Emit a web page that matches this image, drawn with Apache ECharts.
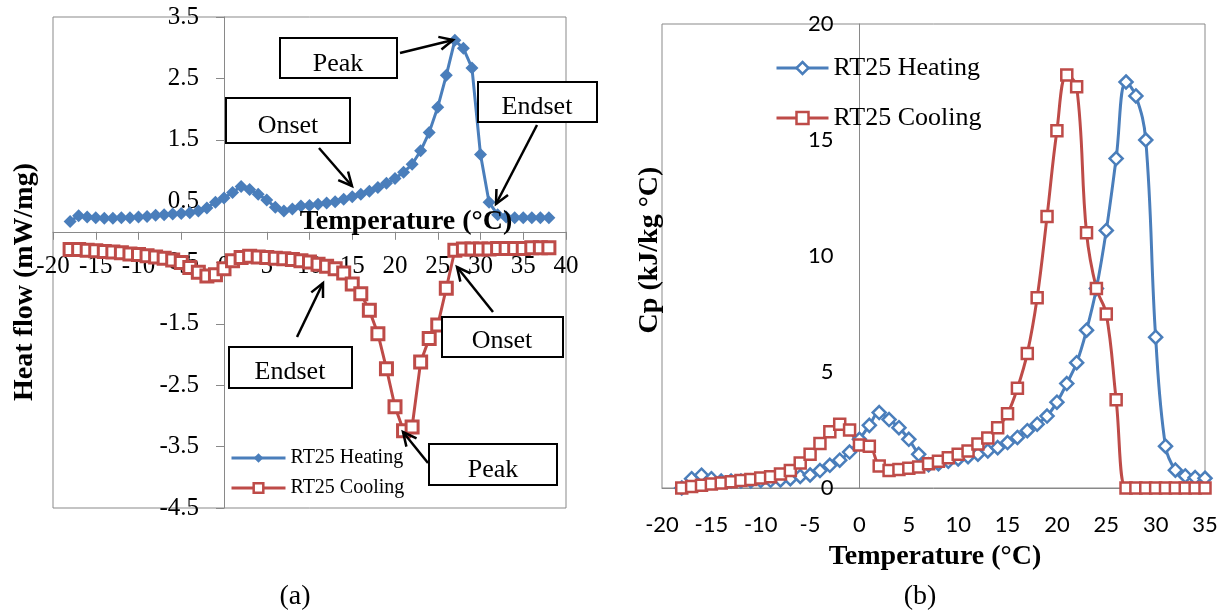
<!DOCTYPE html>
<html><head><meta charset="utf-8">
<script src="https://cdn.jsdelivr.net/npm/echarts@6/dist/echarts.min.js"></script>
<style>html,body{margin:0;padding:0;background:#fff}#c{width:1226px;height:614px}</style>
</head><body><div id="c"></div>
<script>
// ---- Panel (a): heat flow (mW/mg) vs temperature (°C)
const tempA = [-18,-17,-16,-15,-14,-13,-12,-11,-10,-9,-8,-7,-6,-5,-4,-3,-2,-1,0,1,2,3,4,5,6,7,8,9,10,11,12,13,14,15,16,17,18,19,20,21,22,23,24,25,26,27,28,29,30,31,32,33,34,35,36,37,38];
const heatFlowHeating = [0.17,0.26,0.24,0.23,0.22,0.22,0.23,0.23,0.24,0.25,
  0.27,0.28,0.29,0.30,0.31,0.34,0.39,0.48,
  0.55,0.64,0.74,0.69,0.61,0.52,0.40,0.34,0.37,0.42,
  0.43,0.45,0.47,0.49,0.53,0.57,0.61,0.66,0.72,0.79,
  0.87,0.97,1.10,1.32,1.62,2.03,2.55,3.12,2.99,2.67,
  1.26,0.48,0.28,0.24,0.23,0.23,0.23,0.23,0.23];
const heatFlowCooling = [-0.29,-0.29,-0.30,-0.31,-0.32,-0.33,-0.34,-0.36,-0.37,-0.39,
  -0.41,-0.43,-0.46,-0.50,-0.58,-0.66,-0.72,-0.70,
  -0.60,-0.47,-0.42,-0.40,-0.41,-0.42,-0.43,-0.44,-0.45,-0.47,
  -0.49,-0.53,-0.56,-0.60,-0.67,-0.85,-1.01,-1.28,-1.66,-2.23,
  -2.85,-3.24,-3.18,-2.12,-1.74,-1.52,-0.92,-0.30,-0.28,-0.28,
  -0.28,-0.28,-0.27,-0.27,-0.27,-0.27,-0.26,-0.26,-0.26];
const yTicksA = [-4.5,-3.5,-2.5,-1.5,-0.5,0.5,1.5,2.5,3.5];

// ---- Panel (b): Cp (kJ/kg °C) vs temperature (°C)
const tempB = [-18,-17,-16,-15,-14,-13,-12,-11,-10,-9,-8,-7,-6,-5,-4,-3,-2,-1,0,1,2,3,4,5,6,7,8,9,10,11,12,13,14,15,16,17,18,19,20,21,22,23,24,25,26,27,28,29,30,31,32,33,34,35];
const cpHeating = [0.0,0.4,0.55,0.4,0.3,0.3,0.3,0.3,0.32,0.33,
  0.35,0.4,0.5,0.56,0.75,0.98,1.2,1.55,
  2.1,2.7,3.25,2.95,2.6,2.1,1.45,1.0,1.05,1.15,
  1.25,1.35,1.46,1.6,1.74,1.96,2.18,2.47,2.75,3.1,
  3.7,4.5,5.4,6.8,8.6,11.1,14.2,17.5,16.9,15.0,
  6.5,1.8,0.77,0.52,0.45,0.42];
const cpCooling = [0.0,0.07,0.12,0.17,0.22,0.27,0.32,0.37,0.43,0.49,
  0.6,0.75,1.08,1.45,1.92,2.42,2.75,2.5,
  1.85,1.8,0.95,0.75,0.8,0.85,0.9,1.05,1.15,1.3,
  1.45,1.6,1.9,2.15,2.6,3.2,4.3,5.8,8.2,11.7,
  15.4,17.8,17.3,11.0,8.6,7.5,3.8,0,0,0,
  0,0,0,0,0,0];

const seriesNames = ['RT25 Heating','RT25 Cooling'];
const BLUE = '#4a7ebb', RED = '#be4b48', AXIS = '#898989';
const SERIF = '"Liberation Serif", "Times New Roman", serif';

// grid geometry (layout only)
const GA = {left:53, top:17, width:513, height:491};
const GB = {left:662, top:24, width:543, height:464};
const xMinA = -20, xMaxA = 40, yMinA = -4.5, yMaxA = 3.5;
const xMinB = -20, xMaxB = 35;
// shift the crossing axes of panel (a) to the zero lines, and the y axis of (b) to x = 0
const offAx = -GA.height * (0 - yMinA) / (yMaxA - yMinA);
const offAy = -GA.width * (0 - xMinA) / (xMaxA - xMinA);
const offBy = -GB.width * (0 - xMinB) / (xMaxB - xMinB);

function pairs(xs, ys){ return xs.map((x,i)=>[x, ys[i]]); }

function arrow(x1,y1,x2,y2){
  const ang = Math.atan2(y2-y1, x2-x1), L = 15, a = Math.PI/7;
  const p1 = [x2 - L*Math.cos(ang - a), y2 - L*Math.sin(ang - a)];
  const p2 = [x2 - L*Math.cos(ang + a), y2 - L*Math.sin(ang + a)];
  return [
    {type:'line', z:100, shape:{x1:x1,y1:y1,x2:x2,y2:y2}, style:{stroke:'#000', lineWidth:2.5}},
    {type:'polyline', z:100, shape:{points:[p1,[x2,y2],p2]}, style:{stroke:'#000', lineWidth:2.5, fill:null}}
  ];
}
function box(x,y,w,h,text,tx,ty){
  return [
    {type:'rect', z:100, shape:{x:x,y:y,width:w,height:h}, style:{fill:'#fff', stroke:'#000', lineWidth:2}},
    {type:'text', z:101, x:tx, y:ty, style:{text:text, font:'26px ' + SERIF, fill:'#000', align:'center', verticalAlign:'middle'}}
  ];
}
function label(text, x, y, size, bold, rot){
  return {type:'text', z:110, x:x, y:y, rotation: rot || 0,
    style:{text:text, font:(bold?'bold ':'') + size + 'px ' + SERIF, fill:'#000', align:'center', verticalAlign:'middle'}};
}

const graphics = [].concat(
  box(280,38,117,40,'Peak',338,64), arrow(400,53,453,40),
  box(226,98,124,45,'Onset',288,126), arrow(319,148,352,186),
  box(478,82,119,40,'Endset',537,107), arrow(537,125,496,204),
  box(229,347,123,41,'Endset',290,372), arrow(297,337,323,283),
  box(442,317,121,40,'Onset',502,341), arrow(493,312,457,267),
  box(429,444,128,41,'Peak',493,470), arrow(428,463,403,432),
  [label('Temperature (°C)', 406, 222, 28, true),
   label('Heat flow (mW/mg)', 25, 282, 28, true, Math.PI/2),
   label('(a)', 295, 597, 28, false),
   label('Temperature (°C)', 935, 557, 28, true),
   label('Cp (kJ/kg °C)', 650, 250, 28, true, Math.PI/2),
   label('(b)', 920, 597, 28, false)]
);

const chart = echarts.init(document.getElementById('c'), null, {renderer:'canvas', width:1226, height:614});
chart.setOption({
  animation:false,
  backgroundColor:'#fff',
  grid:[
    Object.assign({show:true, borderColor:AXIS, borderWidth:1, backgroundColor:'transparent', containLabel:false, outerBoundsMode:'none'}, GA),
    Object.assign({show:true, borderColor:AXIS, borderWidth:1, backgroundColor:'transparent', containLabel:false, outerBoundsMode:'none'}, GB)
  ],
  xAxis:[
    {type:'value', gridIndex:0, min:xMinA, max:xMaxA, interval:5, position:'bottom', offset:offAx,
     axisLine:{show:true, onZero:false, lineStyle:{color:AXIS, width:1}},
     axisTick:{show:true, length:8, lineStyle:{color:AXIS}},
     axisLabel:{margin:22, fontFamily:SERIF, fontSize:25, color:'#000', interval:0, hideOverlap:false},
     splitLine:{show:false}},
    {type:'value', gridIndex:1, min:xMinB, max:xMaxB, interval:5, position:'bottom',
     axisLine:{show:true, onZero:false, lineStyle:{color:AXIS, width:1}},
     axisTick:{show:false},
     axisLabel:{margin:26, fontFamily:'Lato', fontSize:22, color:'#000', hideOverlap:false},
     splitLine:{show:false}}
  ],
  yAxis:[
    {type:'value', gridIndex:0, min:yMinA, max:yMaxA, position:'left', offset:offAy,
     axisLine:{show:true, onZero:false, lineStyle:{color:AXIS, width:1}},
     axisTick:{show:true, length:8, lineStyle:{color:AXIS}, customValues:yTicksA},
     axisLabel:{margin:25, fontFamily:SERIF, fontSize:25, color:'#000', customValues:yTicksA, hideOverlap:false},
     splitLine:{show:false}},
    {type:'value', gridIndex:1, min:0, max:20, interval:5, position:'left', offset:offBy,
     axisLine:{show:true, onZero:false, lineStyle:{color:AXIS, width:1}},
     axisTick:{show:false},
     axisLabel:{margin:26, fontFamily:'Lato', fontSize:22, color:'#000', hideOverlap:false},
     splitLine:{show:false}}
  ],
  legend:[
    {left:230, top:448, padding:0, orient:'vertical', itemWidth:54, itemHeight:12, itemGap:10, selectedMode:false,
     textStyle:{fontFamily:SERIF, fontSize:20, color:'#000'},
     data:[
       {name:seriesNames[0], itemStyle:{color:BLUE, borderColor:BLUE, borderWidth:0}, lineStyle:{color:BLUE, width:3}},
       {name:seriesNames[1], itemStyle:{color:'#fff', borderColor:RED, borderWidth:2.5}, lineStyle:{color:RED, width:3}}
     ]},
    {left:775, top:55, padding:0, orient:'vertical', itemWidth:52, itemHeight:15, itemGap:24, selectedMode:false,
     textStyle:{fontFamily:SERIF, fontSize:26, color:'#000'},
     data:[
       {name:seriesNames[0], itemStyle:{color:'#fff', borderColor:BLUE, borderWidth:2.5}, lineStyle:{color:BLUE, width:3}},
       {name:seriesNames[1], itemStyle:{color:'#fff', borderColor:RED, borderWidth:2.5}, lineStyle:{color:RED, width:3}}
     ]}
  ],
  series:[
    {name:seriesNames[0], type:'line', xAxisIndex:0, yAxisIndex:0, data:pairs(tempA, heatFlowHeating),
     symbol:'diamond', symbolSize:13, showAllSymbol:true, smooth:false,
     lineStyle:{color:BLUE, width:3}, itemStyle:{color:BLUE}},
    {name:seriesNames[1], type:'line', xAxisIndex:0, yAxisIndex:0, data:pairs(tempA, heatFlowCooling),
     symbol:'rect', symbolSize:12, showAllSymbol:true, smooth:false,
     lineStyle:{color:RED, width:3}, itemStyle:{color:'#fff', borderColor:RED, borderWidth:3}},
    {name:seriesNames[0], type:'line', xAxisIndex:1, yAxisIndex:1, data:pairs(tempB, cpHeating),
     symbol:'diamond', symbolSize:13, showAllSymbol:true, smooth:0.4,
     lineStyle:{color:BLUE, width:3}, itemStyle:{color:'#fff', borderColor:BLUE, borderWidth:2.5}},
    {name:seriesNames[1], type:'line', xAxisIndex:1, yAxisIndex:1, data:pairs(tempB, cpCooling),
     symbol:'rect', symbolSize:11, showAllSymbol:true, smooth:0.4,
     lineStyle:{color:RED, width:3}, itemStyle:{color:'#fff', borderColor:RED, borderWidth:2.5}}
  ],
  graphic: graphics
});
</script>
</body></html>
